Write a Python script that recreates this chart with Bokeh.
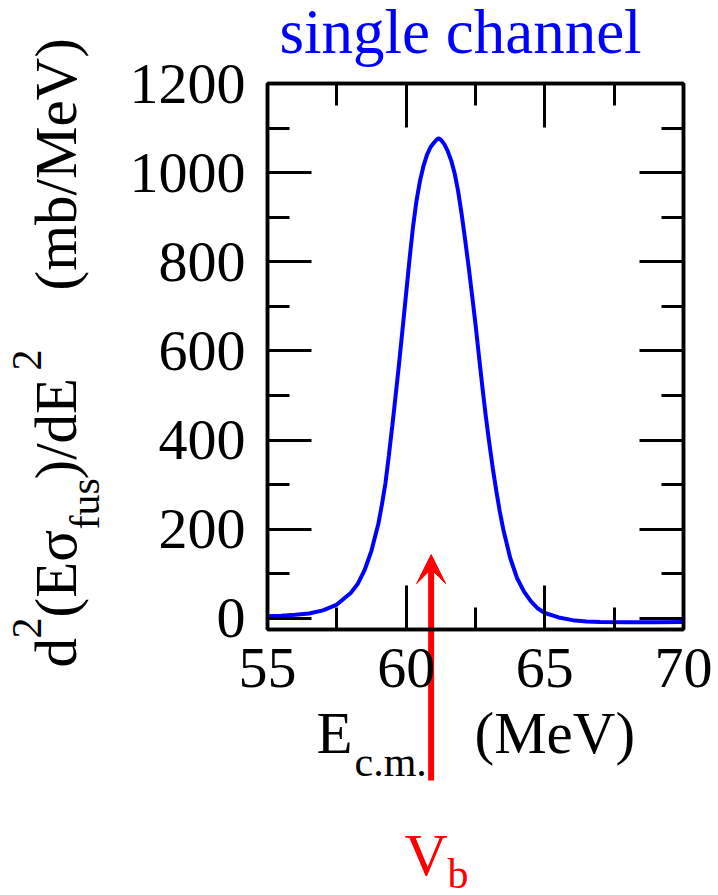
import math
from bokeh.plotting import figure
from bokeh.models import LinearAxis, SingleIntervalTicker, Range1d, Label, Arrow, VeeHead
from bokeh.embed import file_html
from bokeh.resources import INLINE

# ---------------- data ----------------
energy = [55.0, 55.5, 56.0, 56.5, 57.0, 57.5, 58.0, 58.25, 58.5, 58.75, 59.0, 59.125,
          59.25, 59.375, 59.5, 59.625, 59.75, 59.875, 60.0, 60.125, 60.25, 60.375,
          60.5, 60.625, 60.75, 60.875, 61.0, 61.1, 61.17, 61.25, 61.375, 61.5, 61.625,
          61.75, 61.875, 62.0, 62.125, 62.25, 62.375, 62.5, 62.625, 62.75, 62.875,
          63.0, 63.125, 63.25, 63.375, 63.5, 63.75, 64.0, 64.25, 64.5, 64.75, 65.0,
          65.5, 66.0, 66.5, 67.0, 68.0, 69.0, 70.0]
barrier = [5, 6, 8, 11, 18, 31, 57, 77, 108, 152, 213, 255,
           302, 365, 432, 503, 575, 652, 730, 808, 880, 938,
           982, 1015, 1040, 1057, 1067, 1074, 1077, 1074, 1064, 1048, 1027,
           998, 958, 907, 850, 790, 726, 660, 588, 518, 452,
           392, 336, 286, 240, 200, 136, 90, 60, 38, 22, 12,
           2, -4, -7, -8, -9, -9, -8]
vb_energy = 60.9          # barrier height marked by the arrow
vb_arrow_top = 143        # arrow tip value on the y scale
x_tick_values = [55, 60, 65, 70]
y_tick_values = [0, 200, 400, 600, 800, 1000, 1200]
title_text = "single channel"

# ---------------- layout (page pixels) ----------------
W, H = 718, 895
FL, FT, FW, FH = 267, 83, 416, 546
X0, X1 = 55, 70
Y0, Y1 = -25, 1200
SERIF = "Liberation Serif"
BLUE = "#0000ff"
RED = "#ff0000"
BASE_SHIFT = 0.38   # label anchor correction, in em


def dx(px):
    return X0 + (px - FL) / FW * (X1 - X0)


def dy(py):
    return Y1 - (py - FT) / FH * (Y1 - Y0)


# background figure: whole canvas is its frame, same data mapping extended
bg = figure(width=W, height=H, output_backend="svg", toolbar_location=None,
            x_range=Range1d(dx(0), dx(W)), y_range=Range1d(dy(H), dy(0)),
            min_border=0, x_axis_type=None, y_axis_type=None)
bg.grid.visible = False
bg.outline_line_color = None
bg.background_fill_color = "white"
bg.border_fill_color = "white"

# main plot, laid over the background
p = figure(width=W, height=H, output_backend="svg", toolbar_location=None,
           x_range=Range1d(X0, X1), y_range=Range1d(Y0, Y1),
           min_border_left=FL, min_border_top=FT,
           min_border_right=W - FL - FW, min_border_bottom=H - FT - FH,
           x_axis_type=None, y_axis_type=None)
p.grid.visible = False
p.outline_line_color = "black"
p.outline_line_width = 3.5
p.background_fill_color = None
p.border_fill_color = None
p.margin = (-H, 0, 0, 0)


def make_axis(kind, show_labels):
    vals = x_tick_values if kind == "x" else y_tick_values
    step = vals[1] - vals[0]
    ax = LinearAxis(ticker=SingleIntervalTicker(interval=step, num_minor_ticks=2))
    ax.axis_line_color = "black"
    ax.axis_line_width = 3.5
    ax.major_tick_in = 44
    ax.major_tick_out = 0
    ax.minor_tick_in = 22
    ax.minor_tick_out = 0
    ax.major_tick_line_width = 3
    ax.minor_tick_line_width = 3
    ax.major_tick_line_color = "black"
    ax.minor_tick_line_color = "black"
    ax.major_label_text_font = SERIF
    ax.major_label_text_font_size = "58px"
    ax.major_label_text_color = "black"
    if show_labels:
        ax.major_label_standoff = 22 if kind == "y" else 19
    else:
        ax.major_label_overrides = {v: "" for v in vals}
        ax.major_label_standoff = 0
    return ax


p.add_layout(make_axis("x", True), "below")
p.add_layout(make_axis("y", True), "left")
p.add_layout(make_axis("x", False), "above")
p.add_layout(make_axis("y", False), "right")

p.line(energy, barrier, line_width=4, line_color=BLUE)

bg.add_layout(Arrow(end=VeeHead(size=29, fill_color=RED, line_color=RED, line_width=1),
                    x_start=vb_energy, y_start=dy(780), x_end=vb_energy, y_end=vb_arrow_top,
                    line_color=RED, line_width=6))


def lab(text, fx, fy, size, color="black", rotated=False):
    # fx, fy: text origin on its baseline, in page pixels
    if rotated:
        ax_, ay_, ang = fx - BASE_SHIFT * size, fy, math.pi / 2
    else:
        ax_, ay_, ang = fx, fy - BASE_SHIFT * size, 0.0
    bg.add_layout(Label(x=dx(ax_), y=dy(ay_), text=text, text_font=SERIF,
                        text_font_size=f"{size}px", text_color=color,
                        text_align="left", text_baseline="alphabetic", angle=ang))


# title
lab(title_text, 279, 55, 63, BLUE)

# x axis label  E_c.m.   (MeV)
lab("E", 316, 755, 59)
lab("c.m.", 354, 777, 42)
lab("(MeV)", 474, 755, 59)

# y axis label  d^2(E sigma_fus)/dE^2   (mb/MeV), rotated
lab("d", 78, 667, 59, rotated=True)
lab("2", 42, 638, 42, rotated=True)
lab("(E\u03c3", 78, 617, 59, rotated=True)
lab("fus", 100, 529, 42, rotated=True)
lab(")/dE", 78, 479, 59, rotated=True)
lab("2", 42, 370, 42, rotated=True)
lab("(mb/MeV)", 78, 290, 59, rotated=True)

# V_b
lab("V", 404, 877, 60, RED)
lab("b", 447, 889, 42, RED)

open("out.html", "w").write(file_html([bg, p], INLINE))
